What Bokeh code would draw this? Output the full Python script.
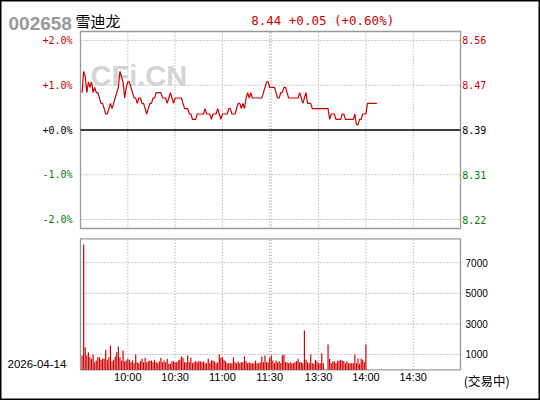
from bokeh.plotting import figure
from bokeh.models import Range1d, ColumnDataSource
from bokeh.core.properties import value
from bokeh.embed import file_html
from bokeh.resources import INLINE

# ---------------- data ----------------
stock_code = "002658"
stock_name = "雪迪龙"
pre_close = 8.39
quote_text = "8.44 +0.05 (+0.60%)"
trade_date = "2026-04-14"
status_text = "(交易中)"
watermark = "CFi.CN"

pct_ticks = [2.0, 1.0, 0.0, -1.0, -2.0]
pct_labels = ["+2.0%", "+1.0%", "+0.0%", "-1.0%", "-2.0%"]
price_labels = ["8.56", "8.47", "8.39", "8.31", "8.22"]

time_ticks = [30, 60, 90, 120, 151, 181, 211]
time_labels = ["10:00", "10:30", "11:00", "11:30", "13:30", "14:00", "14:30"]
grid_slots = [30, 60, 90, 120, 121, 151, 181, 211]
vol_ticks = [1000, 3000, 5000, 7000]
vol_labels = ["1000", "3000", "5000", "7000"]

prices = [
    8.46, 8.50, 8.49, 8.46, 8.48, 8.47, 8.48, 8.46, 8.47, 8.46,
    8.46, 8.45, 8.44, 8.44, 8.43, 8.42, 8.42, 8.43, 8.44, 8.43,
    8.44, 8.45, 8.46, 8.47, 8.50, 8.49, 8.48, 8.45, 8.47, 8.48,
    8.48, 8.47, 8.46, 8.45, 8.45, 8.44, 8.45, 8.45, 8.44, 8.44,
    8.43, 8.42, 8.43, 8.44, 8.44, 8.45, 8.45, 8.46, 8.46, 8.46,
    8.46, 8.45, 8.45, 8.45, 8.44, 8.45, 8.46, 8.45, 8.44, 8.45,
    8.45, 8.45, 8.45, 8.45, 8.44, 8.43, 8.43, 8.43, 8.42, 8.42,
    8.41, 8.41, 8.41, 8.42, 8.42, 8.42, 8.42, 8.42, 8.43, 8.42,
    8.42, 8.42, 8.41, 8.42, 8.42, 8.42, 8.43, 8.42, 8.41, 8.42,
    8.42, 8.42, 8.42, 8.43, 8.43, 8.42, 8.42, 8.42, 8.43, 8.44,
    8.44, 8.43, 8.44, 8.43, 8.45, 8.46, 8.45, 8.46, 8.45, 8.45,
    8.45, 8.45, 8.45, 8.45, 8.45, 8.46, 8.47, 8.48, 8.48, 8.47,
    8.47, 8.47, 8.47, 8.46, 8.45, 8.45, 8.46, 8.46, 8.47, 8.47,
    8.46, 8.45, 8.45, 8.45, 8.45, 8.45, 8.45, 8.45, 8.46, 8.45,
    8.44, 8.45, 8.46, 8.44, 8.44, 8.44, 8.43, 8.43, 8.43, 8.43,
    8.43, 8.43, 8.43, 8.43, 8.43, 8.43, 8.43, 8.41, 8.42, 8.42,
    8.42, 8.41, 8.41, 8.41, 8.41, 8.42, 8.42, 8.41, 8.41, 8.41,
    8.41, 8.41, 8.41, 8.42, 8.40, 8.40, 8.41, 8.41, 8.42, 8.42,
    8.42, 8.44, 8.44, 8.44, 8.44, 8.44, 8.44, 8.44,
]

volumes = [
    935, 8190, 1479, 935, 1152, 826, 717, 1000, 499, 608,
    826, 826, 652, 717, 717, 1305, 652, 826, 1588, 564,
    652, 869, 1152, 1523, 826, 608, 1261, 564, 608, 717,
    652, 499, 608, 433, 1000, 499, 433, 564, 717, 499,
    782, 499, 564, 608, 608, 499, 652, 499, 433, 564,
    782, 499, 608, 499, 717, 390, 390, 564, 564, 499,
    499, 608, 652, 869, 782, 499, 499, 935, 499, 782,
    433, 499, 564, 499, 564, 564, 499, 564, 433, 433,
    717, 433, 608, 608, 564, 433, 499, 1000, 782, 826,
    652, 564, 433, 433, 433, 433, 826, 499, 433, 564,
    433, 499, 499, 869, 564, 433, 499, 433, 433, 433,
    608, 433, 433, 499, 869, 499, 935, 499, 499, 782,
    935, 608, 433, 608, 499, 564, 433, 935, 1000, 499,
    499, 433, 499, 433, 433, 499, 564, 717, 499, 499,
    433, 2569, 652, 499, 433, 1000, 433, 390, 652, 564,
    433, 433, 1087, 433, 0, 0, 1654, 717, 433, 564,
    564, 433, 564, 608, 652, 608, 564, 433, 564, 433,
    433, 433, 433, 1000, 433, 717, 390, 717, 652, 499,
    1654,
]

# ---------------- styles / layout constants ----------------
RED = "#d00000"
GREEN = "#008000"
GRID = "#9a9a9a"
FRAME = "#999999"
label_colors = [RED, RED, "#000000", GREEN, GREEN]

SLOTS = (0, 241)            # session slots across the panels
PCT_LIM = 2.2               # price panel: +/- 2.2 %
VOL_TOP = 8560              # volume panel top

# whole canvas is the plotting frame; ranges place the two panels on it
p = figure(width=540, height=400,
           x_range=Range1d(-50.74, 291.73), y_range=Range1d(-6.0416, 2.8924),
           x_axis_location=None, y_axis_location=None, toolbar_location=None,
           output_backend="svg", min_border=0, min_border_left=0, min_border_right=0,
           min_border_top=0, min_border_bottom=0)
p.extra_y_ranges = {"vol": Range1d(-2006, 24132)}
p.grid.visible = False
p.outline_line_color = "black"
p.outline_line_width = 2
p.background_fill_color = "white"
p.border_fill_color = "white"

price_src = ColumnDataSource(dict(
    slot=[i + 1 for i in range(len(prices))],
    pct=[(v / pre_close - 1.0) * 100.0 for v in prices],
))
vol_src = ColumnDataSource(dict(
    slot=[i + 1 for i in range(len(volumes))],
    vol=volumes,
))

# ---- grids ----
h_ticks = [t for t in pct_ticks if t != 0]
p.segment(x0=[SLOTS[0]] * len(h_ticks), x1=[SLOTS[1]] * len(h_ticks), y0=h_ticks, y1=h_ticks,
          line_color=GRID, line_dash="1 2", line_width=1)
p.segment(x0=grid_slots, x1=grid_slots, y0=[-PCT_LIM] * len(grid_slots), y1=[PCT_LIM] * len(grid_slots),
          line_color=GRID, line_dash="1 2", line_width=1)
p.segment(x0=[SLOTS[0]] * len(vol_ticks), x1=[SLOTS[1]] * len(vol_ticks), y0=vol_ticks, y1=vol_ticks,
          line_color=GRID, line_dash="1 2", line_width=1, y_range_name="vol")
p.segment(x0=grid_slots, x1=grid_slots, y0=[0] * len(grid_slots), y1=[VOL_TOP] * len(grid_slots),
          line_color=GRID, line_dash="1 2", line_width=1, y_range_name="vol")

# ---- watermark ----
p.text(x=[6.34], y=[1.217], text=[watermark], text_font=value("Liberation Sans"),
       text_font_size="29px", text_font_style="bold", text_color="#d4d4d4",
       text_baseline="alphabetic", text_align="left")

# ---- panel boxes ----
p.quad(left=[SLOTS[0]], right=[SLOTS[1]], bottom=[-PCT_LIM], top=[PCT_LIM],
       fill_color=None, line_color=FRAME, line_width=1.3)
p.quad(left=[SLOTS[0]], right=[SLOTS[1]], bottom=[0], top=[VOL_TOP],
       fill_color=None, line_color=FRAME, line_width=1.3, y_range_name="vol")

# ---- zero line, price line, volume bars ----
p.segment(x0=[SLOTS[0]], x1=[SLOTS[1]], y0=[0], y1=[0], line_color="black", line_width=1.4)
p.line("slot", "pct", source=price_src, line_color=RED, line_width=1.2)
p.vbar(x="slot", top="vol", bottom=0, width=0.75, source=vol_src,
       fill_color=RED, line_color=None, y_range_name="vol")

# ---- price panel tick labels ----
p.text(x=[-5.07] * len(pct_ticks), y=pct_ticks, text=pct_labels, text_color=label_colors,
       text_font=value("DejaVu Sans Mono"), text_font_size="10px",
       text_align="right", text_baseline="middle")
p.text(x=[242.07] * len(pct_ticks), y=pct_ticks, text=price_labels, text_color=label_colors,
       text_font=value("DejaVu Sans Mono"), text_font_size="10px",
       text_align="left", text_baseline="middle")

# ---- volume panel tick labels ----
p.text(x=[244.2] * len(vol_ticks), y=vol_ticks, text=vol_labels, text_color="black",
       text_font=value("Liberation Sans"), text_font_size="10px",
       text_align="left", text_baseline="middle", y_range_name="vol")
p.text(x=time_ticks, y=[-503] * len(time_ticks), text=time_labels, text_color="black",
       text_font=value("Liberation Sans"), text_font_size="11px",
       text_align="center", text_baseline="middle", y_range_name="vol")

# ---- header & footer texts ----
p.text(x=[-45.66], y=[2.372], text=[stock_code], text_color="#999999",
       text_font=value("Liberation Sans"), text_font_size="19px", text_font_style="bold",
       text_baseline="alphabetic", text_align="left")
p.text(x=[-3.17], y=[2.439], text=[stock_name], text_color="black",
       text_font=value("Noto Sans CJK SC"), text_font_size="15px",
       text_baseline="alphabetic", text_align="left")
p.text(x=[108.26], y=[2.446], text=[quote_text], text_color=RED,
       text_font=value("DejaVu Sans Mono"), text_font_size="12.5px",
       text_baseline="alphabetic", text_align="left")
p.text(x=[-46.3], y=[392], text=[trade_date], text_color="black",
       text_font=value("Liberation Sans"), text_font_size="11.5px",
       text_baseline="middle", text_align="left", y_range_name="vol")
p.text(x=[243.09], y=[-699], text=[status_text], text_color="black",
       text_font=value("Noto Sans CJK SC"), text_font_size="12.5px",
       text_baseline="middle", text_align="left", y_range_name="vol")

open("out.html", "w").write(file_html(p, INLINE))
